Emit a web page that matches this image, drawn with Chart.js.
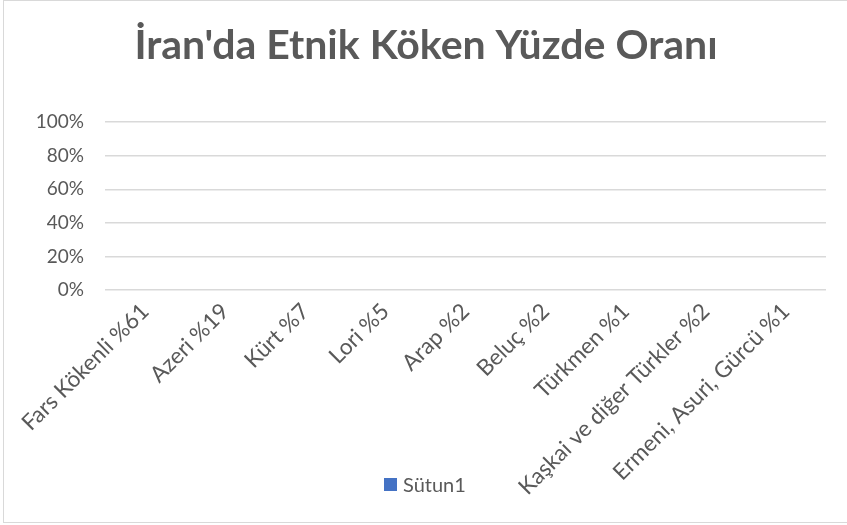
<!DOCTYPE html>
<html>
<head>
<meta charset="utf-8">
<script src="https://cdn.jsdelivr.net/npm/chart.js@4/dist/chart.umd.min.js"></script>
<style>
    body { margin: 0; background: #fff; }
    #marco {
        position: absolute; left: 3px; top: 0px;
        width: 846px; height: 523px;
        box-sizing: border-box;
        border: 1px solid #d9d9d9;
        background: #fff;
    }
    canvas { display: block; }
    #leyenda {
        position: absolute; left: 384px; top: 472px;
        font-family: Lato, "Liberation Sans", sans-serif;
        font-size: 20px; color: #595959;
        display: flex; align-items: center;
    }
    #leyenda .caja { width: 13px; height: 13px; margin-right: 6px; }
</style>
</head>
<body>
<div id="marco"><canvas id="grafica" width="844" height="521"></canvas></div>
<div id="leyenda"></div>
<script>
// Datos del gráfico
const categorias = [
    'Fars Kökenli %61',
    'Azeri %19',
    'Kürt %7',
    'Lori %5',
    'Arap %2',
    'Beluç %2',
    'Türkmen %1',
    'Kaşkai ve diğer Türkler %2',
    'Ermeni, Asuri, Gürcü %1'
];
// La columna está vacía en la hoja original
const sutun1 = [null, null, null, null, null, null, null, null, null];
const ticksY = [0, 0.2, 0.4, 0.6, 0.8, 1];

const gris = '#595959';
const fuente = 'Lato, "Liberation Sans", sans-serif';

const ctx = document.getElementById('grafica').getContext('2d');
const chart = new Chart(ctx, {
    type: 'bar',
    data: {
        labels: categorias,
        datasets: [{
            label: 'Sütun1',
            data: sutun1,
            backgroundColor: '#4472C4',
            borderWidth: 0
        }]
    },
    options: {
        responsive: false,
        animation: false,
        layout: { padding: { left: 22, right: 22, top: 0, bottom: 0 } },
        plugins: {
            title: {
                display: true,
                text: "İran'da Etnik Köken Yüzde Oranı",
                color: gris,
                font: { family: fuente, size: 41, weight: 'bold' },
                padding: { top: 20, bottom: 52 }
            },
            // la leyenda va en HTML porque en Excel queda encima de las etiquetas
            legend: { display: false },
            tooltip: { enabled: false }
        },
        scales: {
            x: {
                grid: { display: false },
                border: { display: false },
                ticks: {
                    color: gris,
                    font: { family: fuente, size: 22.5 },
                    minRotation: 45,
                    maxRotation: 45,
                    autoSkip: false,
                    padding: 0
                },
                afterFit: (scale) => { scale.height = 232; }
            },
            y: {
                min: 0,
                max: 1,
                afterBuildTicks: (scale) => { scale.ticks = ticksY.map(v => ({ value: v })); },
                grid: { color: '#d9d9d9', lineWidth: 1.5, drawTicks: false },
                border: { display: false },
                ticks: {
                    color: gris,
                    font: { family: fuente, size: 19 },
                    padding: 21,
                    callback: (v) => Math.round(v * 100) + '%'
                },
                afterFit: (scale) => { scale.width = 79; }
            }
        }
    }
});

// Leyenda HTML a partir de los datasets
const leyenda = document.getElementById('leyenda');
chart.data.datasets.forEach(ds => {
    const caja = document.createElement('span');
    caja.className = 'caja';
    caja.style.background = ds.backgroundColor;
    const texto = document.createElement('span');
    texto.textContent = ds.label;
    leyenda.appendChild(caja);
    leyenda.appendChild(texto);
});
</script>
</body>
</html>
